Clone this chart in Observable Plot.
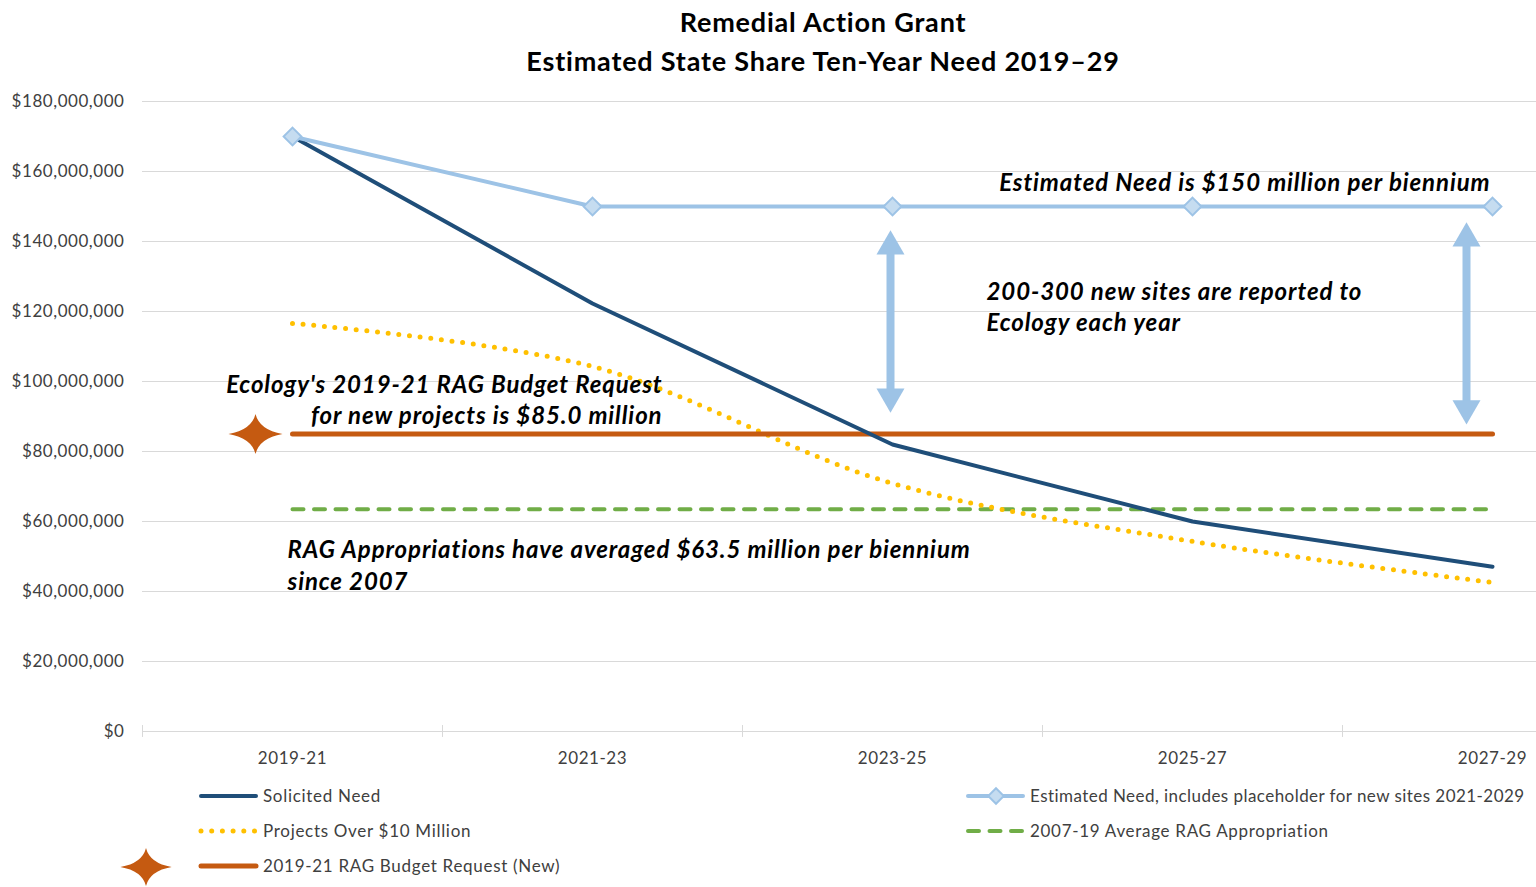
<!DOCTYPE html>
<html><head><meta charset="utf-8">
<script src="https://cdn.jsdelivr.net/npm/d3@7"></script>
<script src="https://cdn.jsdelivr.net/npm/@observablehq/plot@0.6"></script>
<style>
body{margin:0;background:#fff;overflow:hidden;font-family:Lato,"Open Sans",sans-serif;}
#wrap{position:relative;width:1536px;height:887px;overflow:hidden;}
#title{height:80px;box-sizing:border-box;padding-top:2px;padding-left:110px;text-align:center;font-weight:bold;font-size:27px;line-height:39px;color:#000;letter-spacing:0.8px;}
#chart{height:690px;}
#chart g[aria-label="text"] text{letter-spacing:0.9px;}
#chart g[aria-label="y-axis tick label"] text, #chart g[aria-label="x-axis tick label"] text{letter-spacing:0.55px;}
#legend{position:absolute;left:0;top:770px;width:1536px;height:117px;}
.lt{position:absolute;font-size:17px;line-height:20px;color:#404040;white-space:nowrap;letter-spacing:0.7px;}
</style></head>
<body>
<div id="wrap">
  <div id="title"><div>Remedial Action Grant</div><div>Estimated State Share Ten-Year Need 2019–29</div></div>
  <div id="chart"></div>
  <div id="legend"></div>
</div>
<script>
// ---- data ----
const periods = ["2019-21", "2021-23", "2023-25", "2025-27", "2027-29"];
const solicitedNeed = [170e6, 122.3e6, 82e6, 60e6, 47.1e6];
const estimatedNeed = [170e6, 150e6, 150e6, 150e6, 150e6];
const projectsOver10M = [116.6e6, 104.3e6, 70.9e6, 54.3e6, 42.6e6];
const budgetRequest = 85e6;
const avgAppropriation = 63.5e6;
const yTicks = d3.range(0, 180e6 + 1, 20e6);
const seriesNames = {
  solicited: "Solicited Need",
  estimated: "Estimated Need, includes placeholder for new sites 2021-2029",
  projects: "Projects Over $10 Million",
  budget: "2019-21 RAG Budget Request (New)",
  average: "2007-19 Average RAG Appropriation"
};
// ---- colours ----
const C = {navy:"#1f4e79", lightBlue:"#9dc3e6", lightFill:"#c5dcf0", gold:"#ffc000", orange:"#c55a11", green:"#70ad47", grid:"#d9d9d9", text:"#404040"};

const rows = (vals) => periods.map((p, i) => ({period: p, value: Array.isArray(vals) ? vals[i] : vals}));

const starSymbol = {
  draw(ctx, size) {
    const r = Math.sqrt(size / Math.PI);
    const a = r * 1.35, b = r, c = r * 0.2;
    ctx.moveTo(a, 0);
    ctx.quadraticCurveTo(c, c, 0, b);
    ctx.quadraticCurveTo(-c, c, -a, 0);
    ctx.quadraticCurveTo(-c, -c, 0, -b);
    ctx.quadraticCurveTo(c, -c, a, 0);
    ctx.closePath();
  }
};

const annFont = {fontFamily: "Lato", fontWeight: "bold", fontStyle: "italic", fontSize: 24, fill: "#000"};

const arrows = [
  {period: "2023-25", top: 138.6e6, bottom: 95.7e6, dx: -2},
  {period: "2027-29", top: 140.9e6, bottom: 92.3e6, dx: -26}
];
const arrowMarks = arrows.flatMap(a => [
  Plot.link([a], {x1: "period", x2: "period", y1: "top", y2: "bottom", dx: a.dx, stroke: C.lightBlue, strokeWidth: 8}),
  Plot.dot([a], {x: "period", y: "top", dx: a.dx, symbol: "triangle", r: 10.4, fill: C.lightBlue}),
  Plot.dot([a], {x: "period", y: "bottom", dx: a.dx, symbol: "triangle", r: 10.4, fill: C.lightBlue, rotate: 180})
]);

const chart = Plot.plot({
  width: 1536, height: 690,
  marginLeft: 142, marginRight: 0, marginTop: 21, marginBottom: 39,
  style: {fontFamily: "Lato", fontSize: "17px", color: C.text, background: "white", overflow: "visible"},
  x: {type: "band", domain: periods, range: [142, 1642], padding: 0},
  y: {domain: [0, 180e6]},
  marks: [
    Plot.gridY(yTicks, {stroke: C.grid, strokeOpacity: 1, strokeWidth: 1}),
    Plot.axisY(yTicks, {tickFormat: d3.format("$,"), tickSize: 0, tickPadding: 18, fontSize: 17, fill: C.text, label: null}),
    Plot.axisX(periods, {tickSize: 0, tickPadding: 20, fontSize: 17, fill: C.text, label: null}),
    Plot.ruleX(periods, {x: d => d, dx: -150, y1: 1.7e6, y2: -1.7e6, stroke: C.grid}),
    // average appropriation
    Plot.line(rows(avgAppropriation), {x: "period", y: "value", stroke: C.green, strokeWidth: 4, strokeDasharray: "11 10.5", strokeLinecap: "round"}),
    // projects over $10M
    Plot.line(rows(projectsOver10M), {x: "period", y: "value", stroke: C.gold, strokeWidth: 5, strokeDasharray: "0 10.7", strokeLinecap: "round", curve: "catmull-rom"}),
    // budget request
    Plot.line(rows(budgetRequest), {x: "period", y: "value", stroke: C.orange, strokeWidth: 5}),
    Plot.dot([{period: periods[0], value: budgetRequest}], {x: "period", y: "value", dx: -37, symbol: starSymbol, r: 20, fill: C.orange}),
    // solicited need
    Plot.line(rows(solicitedNeed), {x: "period", y: "value", stroke: C.navy, strokeWidth: 4}),
    // estimated need
    Plot.line(rows(estimatedNeed), {x: "period", y: "value", stroke: C.lightBlue, strokeWidth: 4}),
    Plot.dot(rows(estimatedNeed), {x: "period", y: "value", symbol: "diamond2", r: 8, fill: C.lightFill, stroke: C.lightBlue, strokeWidth: 2}),
    ...arrowMarks,
    // annotations
    Plot.text(["Estimated Need is $150 million per biennium"], {x: () => "2027-29", y: () => 156.6e6, dx: -2, textAnchor: "end", ...annFont}),
    Plot.text(["200-300 new sites are reported to\nEcology each year"], {x: () => "2023-25", y: () => 121.6e6, dx: 94, textAnchor: "start", lineHeight: 31 / 24, ...annFont}),
    Plot.text(["Ecology's 2019-21 RAG Budget Request\nfor new projects is $85.0 million"], {x: () => "2021-23", y: () => 95e6, dx: 70, textAnchor: "end", lineHeight: 31 / 24, ...annFont}),
    Plot.text(["RAG Appropriations have averaged $63.5 million per biennium\nsince 2007"], {x: () => "2019-21", y: () => 48e6, dx: -5, textAnchor: "start", lineHeight: 32 / 24, ...annFont})
  ]
});
document.getElementById("chart").append(chart);

// ---- legend ----
const lg = document.getElementById("legend");
const lsvg = d3.create("svg").attr("width", 1536).attr("height", 117).style("position", "absolute").style("left", 0).style("top", 0);
const lineSw = (x1, x2, y, stroke, w, dash) => lsvg.append("line").attr("x1", x1).attr("x2", x2).attr("y1", y).attr("y2", y)
  .attr("stroke", stroke).attr("stroke-width", w).attr("stroke-linecap", "round").attr("stroke-dasharray", dash || null);
lineSw(201, 256, 26, C.navy, 4);
lineSw(201, 257, 61, C.gold, 5, "0 10.7");
lineSw(201, 256, 96, C.orange, 5);
lsvg.append("path").attr("d", d3.symbol(starSymbol, Math.PI * 19 * 19)()).attr("transform", "translate(146,97)").attr("fill", C.orange);
lineSw(968, 1023, 26, C.lightBlue, 4);
lsvg.append("path").attr("d", d3.symbol(d3.symbolDiamond2, Math.PI * 49)()).attr("transform", "translate(996,26)").attr("fill", C.lightFill).attr("stroke", C.lightBlue).attr("stroke-width", 2);
lineSw(968, 1023, 61, C.green, 4, "11 10.5");
lg.append(lsvg.node());
const addText = (x, yc, t, ls) => { const d = document.createElement("div"); d.className = "lt"; d.style.left = x + "px"; d.style.top = (yc - 10) + "px"; if (ls != null) d.style.letterSpacing = ls; d.textContent = t; lg.append(d); };
addText(263, 26, seriesNames.solicited);
addText(263, 61, seriesNames.projects);
addText(263, 96, seriesNames.budget);
addText(1030, 26, seriesNames.estimated, "0.45px");
addText(1030, 61, seriesNames.average);
</script>
</body></html>
